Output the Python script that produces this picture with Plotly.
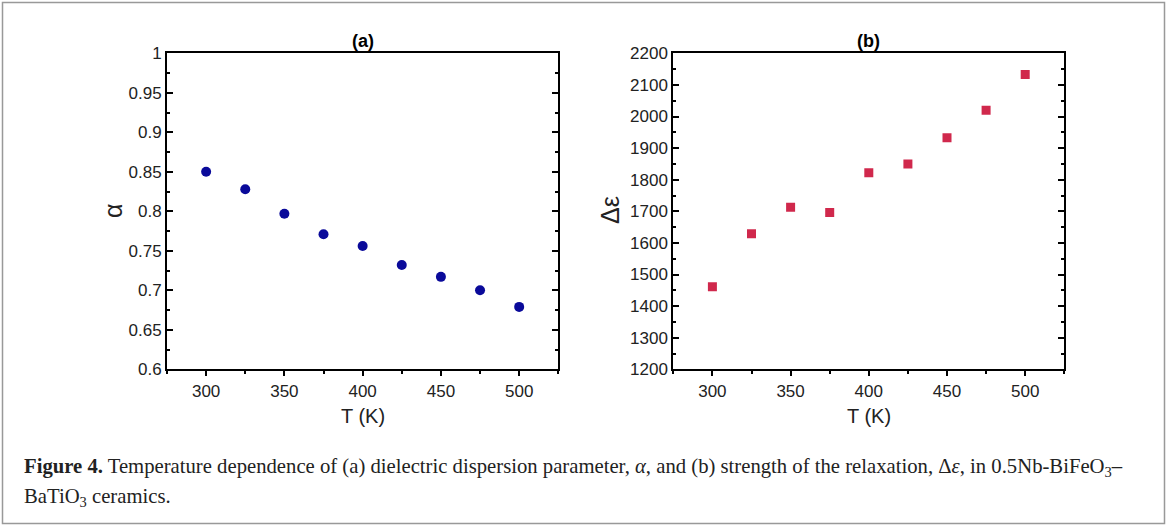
import plotly.graph_objects as go

# ---- data ----
temperature_K = [300, 325, 350, 375, 400, 425, 450, 475, 500]
alpha_values = [0.850, 0.828, 0.797, 0.771, 0.756, 0.732, 0.717, 0.700, 0.679]
delta_eps_values = [1461, 1629, 1713, 1696, 1822, 1850, 1933, 2020, 2133]

x_ticks = [300, 350, 400, 450, 500]
alpha_ticks = [0.6, 0.65, 0.7, 0.75, 0.8, 0.85, 0.9, 0.95, 1.0]
alpha_tick_text = ["0.6", "0.65", "0.7", "0.75", "0.8", "0.85", "0.9", "0.95", "1"]
eps_ticks = [1200, 1300, 1400, 1500, 1600, 1700, 1800, 1900, 2000, 2100, 2200]

W, H = 1167, 526


def px_x(p):
    return p / W


def px_y(p):
    return 1 - p / H


fig = go.Figure()
fig.add_trace(go.Scatter(
    x=temperature_K, y=alpha_values, mode="markers", xaxis="x", yaxis="y",
    marker=dict(symbol="circle", size=10, color="#0a0a9a"), showlegend=False))
fig.add_trace(go.Scatter(
    x=temperature_K, y=delta_eps_values, mode="markers", xaxis="x2", yaxis="y2",
    marker=dict(symbol="square", size=9, color="#d0284c"), showlegend=False))

tick_font = dict(family="Liberation Sans, Arial, sans-serif", size=17, color="#222")
ydom = [px_y(369.3), px_y(53.3)]

xcommon = dict(range=[275, 525], tickvals=x_ticks, ticks="outside", ticklen=5, tickwidth=1.5,
               tickcolor="black", showline=True, linewidth=2, linecolor="black", mirror=True,
               showgrid=False, zeroline=False, tickfont=tick_font, automargin=False,
               minor=dict(dtick=25, tick0=300, ticks="outside", ticklen=3, tickwidth=1.5,
                          tickcolor="black", showgrid=False))

fig.update_layout(
    template="none",
    width=W, height=H, autosize=False,
    margin=dict(l=0, r=0, t=0, b=0, pad=0),
    showlegend=False,
    paper_bgcolor="white", plot_bgcolor="white",
    xaxis=dict(domain=[px_x(167), px_x(558.3)], anchor="y", **xcommon),
    xaxis2=dict(domain=[px_x(673.3), px_x(1064.3)], anchor="y2", **xcommon),
    yaxis=dict(domain=ydom, anchor="x", range=[0.6, 1.0], tickvals=alpha_ticks,
               ticktext=alpha_tick_text, ticks="inside", ticklen=6, tickwidth=1.5,
               tickcolor="black", showline=True, linewidth=2, linecolor="black",
               mirror="ticks", showgrid=False, zeroline=False, tickfont=tick_font,
               automargin=False,
               minor=dict(dtick=0.025, tick0=0.6, ticks="inside", ticklen=3, tickwidth=1.5,
                          tickcolor="black", showgrid=False)),
    yaxis2=dict(domain=ydom, anchor="x2", range=[1200, 2200], tickvals=eps_ticks,
                ticks="inside", ticklen=6, tickwidth=1.5,
                tickcolor="black", showline=True, linewidth=2, linecolor="black",
                mirror="ticks", showgrid=False, zeroline=False, tickfont=tick_font,
                automargin=False,
                minor=dict(dtick=50, tick0=1200, ticks="inside", ticklen=3, tickwidth=1.5,
                           tickcolor="black", showgrid=False)),
)

title_font = dict(family="Liberation Sans, Arial, sans-serif", size=18, color="black")
axis_title_font = dict(family="Liberation Sans, Arial, sans-serif", size=20, color="#222")
greek_title_font = dict(family="Liberation Sans, Arial, sans-serif", size=25, color="#222")
caption_font = dict(family="Liberation Serif, Times New Roman, serif", size=20.7, color="#222")

annotations = [
    dict(text="<b>(a)</b>", x=px_x(362.5), y=px_y(40.5), font=title_font),
    dict(text="<b>(b)</b>", x=px_x(868.8), y=px_y(40.5), font=title_font),
    dict(text="T (K)", x=px_x(362.5), y=px_y(416), font=axis_title_font),
    dict(text="T (K)", x=px_x(868.8), y=px_y(416), font=axis_title_font),
    dict(text="α", x=px_x(113), y=px_y(211), font=greek_title_font, textangle=-90),
    dict(text="Δε", x=px_x(610), y=px_y(210), font=greek_title_font, textangle=-90),
]
for a in annotations:
    a.update(xref="paper", yref="paper", showarrow=False, xanchor="center", yanchor="middle")
    fig.add_annotation(**a)

fig.add_annotation(
    text="<b>Figure 4.</b> Temperature dependence of (a) dielectric dispersion parameter, <i>α</i>, "
         "and (b) strength of the relaxation, Δ<i>ε</i>, in 0.5Nb-BiFeO<sub>3</sub>–",
    x=px_x(22), y=px_y(467), xref="paper", yref="paper", showarrow=False,
    xanchor="left", yanchor="middle", font=caption_font)
fig.add_annotation(
    text="BaTiO<sub>3</sub> ceramics.",
    x=px_x(22), y=px_y(497), xref="paper", yref="paper", showarrow=False,
    xanchor="left", yanchor="middle", font=caption_font)

fig.add_shape(type="rect", xref="paper", yref="paper",
              x0=px_x(2.5), x1=px_x(1164.5), y0=px_y(523.5), y1=px_y(2.5),
              line=dict(color="#999999", width=1.5), fillcolor="rgba(0,0,0,0)")

fig.write_html(
    "out.html",
    config={"displayModeBar": False, "responsive": False},
    post_script="document.body.style.margin='0';document.body.style.overflow='hidden';",
)
